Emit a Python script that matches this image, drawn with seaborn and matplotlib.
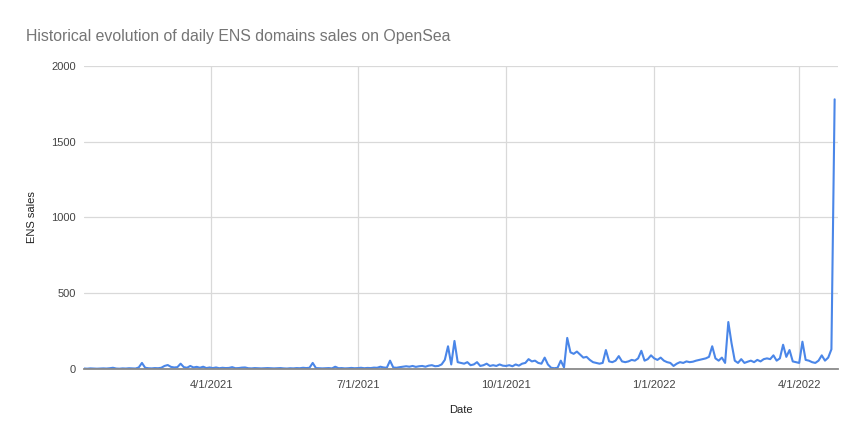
import matplotlib
matplotlib.use("Agg")
import matplotlib.pyplot as plt
import numpy as np
import pandas as pd
import seaborn as sns

# ---- data (sampled every 2 days, 2021-01-12 .. 2022-04-23) ----
start_date = "2021-01-12"
step_days = 2
sales_2021_jan = [3, 2, 4, 3, 2, 3, 4, 3, 5, 8]
sales_2021_feb = [3, 2, 4, 3, 5, 4, 3, 10, 40, 8, 5, 4, 6, 5]
sales_2021_mar = [8, 20, 26, 14, 10, 12, 35, 12, 8, 20, 10, 14, 8, 15, 6, 10]
sales_2021_apr = [6, 10, 5, 8, 6, 7, 12, 5, 6, 9, 10, 5, 4, 6, 5]
sales_2021_may = [4, 5, 6, 5, 4, 5, 6, 4, 3, 5, 4, 6, 5, 8, 6]
sales_2021_jun = [8, 40, 6, 5, 4, 5, 6, 4, 15, 5, 6, 4, 5, 7, 5]
sales_2021_jul = [6, 8, 5, 7, 6, 9, 8, 15, 10, 8, 55, 10, 8, 12, 15, 18]
sales_2021_aug = [15, 20, 14, 18, 20, 15, 22, 25, 18, 20, 30, 60, 150, 30, 185]
sales_2021_sep = [45, 40, 35, 45, 25, 30, 45, 20, 25, 35, 20, 25, 20, 30, 22]
sales_2021_oct = [20, 25, 18, 30, 22, 35, 40, 65, 50, 55, 40, 35, 75, 30, 8, 5]
sales_2021_nov = [8, 55, 10, 205, 110, 100, 115, 95, 75, 80, 60, 45, 40, 35, 40]
sales_2021_dec = [125, 50, 45, 55, 85, 50, 45, 50, 60, 55, 70, 120, 55, 65, 90]
sales_2022_jan = [70, 60, 75, 55, 45, 40, 20, 35, 45, 40, 50, 45, 48, 55, 60, 65]
sales_2022_feb = [70, 80, 150, 70, 55, 75, 40, 310, 170, 55, 40, 65, 40, 48]
sales_2022_mar = [55, 45, 60, 50, 65, 70, 65, 90, 55, 70, 160, 80, 125, 50, 45]
sales_2022_apr = [40, 180, 60, 55, 45, 40, 55, 90, 55, 75, 130, 1780]

y_ticks = [0, 500, 1000, 1500, 2000]
x_tick_dates = ["2021-04-01", "2021-07-01", "2021-10-01", "2022-01-01", "2022-04-01"]
x_tick_labels = ["4/1/2021", "7/1/2021", "10/1/2021", "1/1/2022", "4/1/2022"]

title = "Historical evolution of daily ENS domains sales on OpenSea"
x_label = "Date"
y_label = "ENS sales"

values = (sales_2021_jan + sales_2021_feb + sales_2021_mar + sales_2021_apr +
          sales_2021_may + sales_2021_jun + sales_2021_jul + sales_2021_aug +
          sales_2021_sep + sales_2021_oct + sales_2021_nov + sales_2021_dec +
          sales_2022_jan + sales_2022_feb + sales_2022_mar + sales_2022_apr)
dates = pd.date_range(start_date, periods=len(values), freq=f"{step_days}D")
df = pd.DataFrame({"Date": dates, "ENS sales": values})

# ---- style ----
sns.set_style("white")
plt.rcParams["font.family"] = ["Liberation Sans", "DejaVu Sans"]

fig = plt.figure(figsize=(8.62, 4.4), dpi=100)
ax = fig.add_axes([0.0974, 0.1614, 0.8746, 0.6886])

ax.set_axisbelow(True)
sns.lineplot(data=df, x="Date", y="ENS sales", ax=ax, color="#4a86e8", linewidth=1.5)

ax.set_ylim(0, 2000)
ax.set_xlim(pd.Timestamp("2021-01-12"), pd.Timestamp("2022-04-25"))
ax.set_yticks(y_ticks)
ax.set_yticklabels([str(v) for v in y_ticks])
ax.set_xticks([pd.Timestamp(d) for d in x_tick_dates])
ax.set_xticklabels(x_tick_labels)

ax.grid(True, color="#d9d9d9", linewidth=0.9)
for s in ["top", "right", "left"]:
    ax.spines[s].set_visible(False)
ax.spines["bottom"].set_color("#8a8a8a")
ax.spines["bottom"].set_linewidth(1.3)

ax.tick_params(axis="both", length=0, labelsize=8, labelcolor="#444444")
ax.tick_params(axis="x", pad=8)
ax.tick_params(axis="y", pad=6)

ax.set_xlabel(x_label, fontsize=8, color="#222222", labelpad=11)
ax.set_ylabel(y_label, fontsize=8, color="#222222", labelpad=10)

fig.text(26 / 862, 1 - 36 / 440, title, fontsize=11.4, color="#757575",
         ha="left", va="center")

fig.savefig("out.png", dpi=100)
